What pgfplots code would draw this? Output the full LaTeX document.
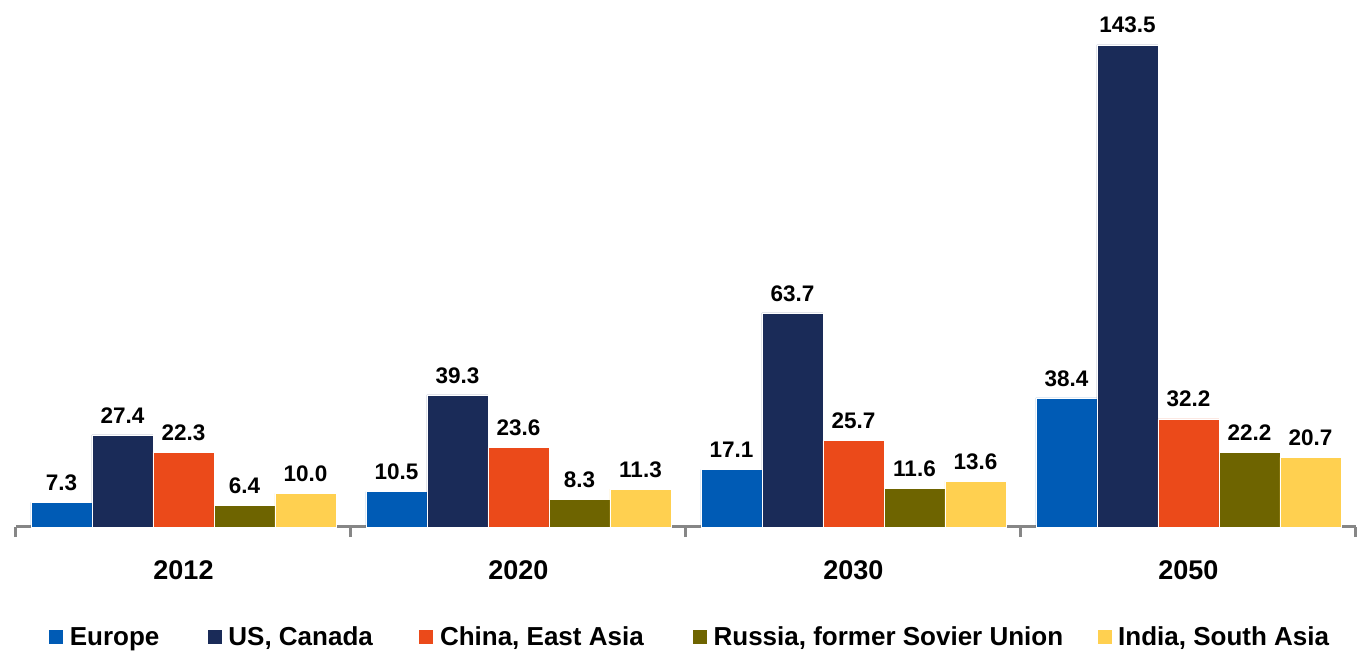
\documentclass[border=0pt]{standalone}
\usepackage{fontspec}
\setmainfont{Liberation Sans}
\usepackage{pgfplots}
\pgfplotsset{compat=1.18}
\usetikzlibrary{calc}
\definecolor{cEur}{RGB}{0,91,181}
\definecolor{cUS}{RGB}{26,43,88}
\definecolor{cCn}{RGB}{235,74,26}
\definecolor{cRu}{RGB}{110,100,0}
\definecolor{cIn}{RGB}{255,208,80}
\definecolor{axgray}{RGB}{134,134,134}
\begin{document}
\begin{tikzpicture}
\begin{axis}[
 name=ax, at={(0,0)}, anchor=south west,
 scale only axis, width=1340pt, height=504pt,
 xmin=-0.5, xmax=3.5, ymin=0, ymax=150,
 clip=false,
 axis x line=bottom, axis y line=none,
 axis line style={axgray, line width=3pt, -},
 ybar=0pt, bar width=61pt,
 xtick={-0.5,0.5,1.5,2.5,3.5}, xticklabels={},
 tick align=outside, major tick length=10pt,
 x tick style={axgray, line width=3pt},
 extra x ticks={0,1,2,3}, extra x tick labels={2012,2020,2030,2050},
 extra x tick style={major tick length=0pt, tick style={draw=none},
   xticklabel style={font=\fontsize{27}{30}\selectfont\bfseries, yshift=-30pt}},
 /pgf/number format/.cd, fixed, fixed zerofill, precision=1, assume math mode=true, /pgfplots/.cd,
 nodes near coords,
 nodes near coords style={font=\fontsize{22.5}{25}\selectfont\bfseries, text=black, yshift=8pt},
 every axis plot/.append style={draw=white, line width=0.6pt},
 legend columns=5,
 legend image code/.code={\fill[#1] (0pt,-7.5pt) rectangle (15pt,7.5pt);},
 legend style={draw=none, fill=none, at={(0.0239,-0.2183)}, anchor=west,
   font=\fontsize{26}{29}\selectfont\bfseries, inner sep=0pt,
   nodes={inner sep=1pt},
   column sep=0pt,
   /tikz/every odd column/.append style={column sep=5pt},
   /tikz/every even column/.append style={column sep=0pt}},
]
\addplot[fill=cEur] coordinates {(0,7.3) (1,10.5) (2,17.1) (3,38.4)};
\addlegendentry{\makebox[136pt][l]{Europe}}
\addplot[fill=cUS] coordinates {(0,27.4) (1,39.3) (2,63.7) (3,143.5)};
\addlegendentry{\makebox[189pt][l]{US, Canada}}
\addplot[fill=cCn] coordinates {(0,22.3) (1,23.6) (2,25.7) (3,32.2)};
\addlegendentry{\makebox[251pt][l]{China, East Asia}}
\addplot[fill=cRu] coordinates {(0,6.4) (1,8.3) (2,11.6) (3,22.2)};
\addlegendentry{\makebox[382pt][l]{Russia, former Sovier Union}}
\addplot[fill=cIn] coordinates {(0,10.0) (1,11.3) (2,13.6) (3,20.7)};
\addlegendentry{India, South Asia}
\end{axis}
\pgfresetboundingbox
\path[use as bounding box] ($(ax.south west)+(-16pt,-125pt)$) rectangle ($(ax.south west)+(1348pt,527pt)$);
\end{tikzpicture}
\end{document}
